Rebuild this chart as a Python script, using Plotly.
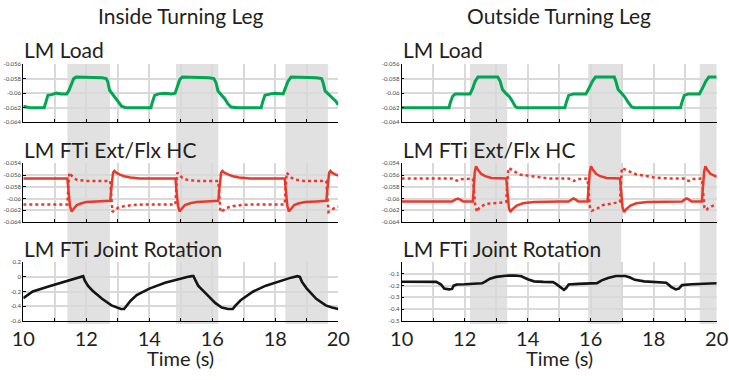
import plotly.graph_objects as go

# ---------------- DATA ----------------
# Inside turning leg
in_load_t = [10.0, 10.2, 10.5, 10.66, 10.72, 10.78, 10.9, 11.05, 11.2, 11.38, 11.45, 11.52, 11.6, 11.68, 11.9, 12.1, 12.3, 12.5, 12.63, 12.68, 12.74, 12.82, 12.92, 13.02, 13.12, 13.25, 13.5, 13.8, 14.05, 14.1, 14.17, 14.3, 14.5, 14.7, 14.82, 14.9, 14.97, 15.05, 15.3, 15.5, 15.7, 15.9, 16.05, 16.12, 16.18, 16.28, 16.4, 16.5, 16.6, 16.8, 17.1, 17.3, 17.55, 17.6, 17.67, 17.85, 18.0, 18.25, 18.32, 18.4, 18.5, 18.7, 18.9, 19.1, 19.3, 19.47, 19.52, 19.58, 19.7, 19.82, 19.92, 20.0]
in_load_v = [-0.0618, -0.0620, -0.0620, -0.0620, -0.0612, -0.0603, -0.0602, -0.0600, -0.0601, -0.0601, -0.0596, -0.0588, -0.0580, -0.0578, -0.0578, -0.0579, -0.0578, -0.0579, -0.0580, -0.0584, -0.0596, -0.0601, -0.0606, -0.0612, -0.0618, -0.0620, -0.0620, -0.0619, -0.0620, -0.0612, -0.0603, -0.0601, -0.0600, -0.0601, -0.0600, -0.0590, -0.0581, -0.0578, -0.0578, -0.0579, -0.0578, -0.0579, -0.0580, -0.0586, -0.0597, -0.0602, -0.0608, -0.0615, -0.0619, -0.0620, -0.0620, -0.0619, -0.0620, -0.0612, -0.0603, -0.0601, -0.0600, -0.0601, -0.0594, -0.0584, -0.0578, -0.0578, -0.0579, -0.0578, -0.0579, -0.0580, -0.0586, -0.0597, -0.0602, -0.0606, -0.0611, -0.0616]

in_hc_solid_t = [10.0, 11.0, 11.4, 11.44, 11.48, 11.53, 11.6, 11.7, 11.85, 12.0, 12.3, 12.6, 12.76, 12.8, 12.85, 12.89, 12.95, 13.05, 13.2, 13.4, 13.7, 14.0, 14.83, 14.87, 14.91, 14.96, 15.03, 15.13, 15.3, 15.5, 15.8, 16.19, 16.23, 16.28, 16.32, 16.38, 16.5, 16.65, 16.85, 17.2, 18.3, 18.34, 18.38, 18.43, 18.5, 18.6, 18.75, 18.95, 19.3, 19.62, 19.66, 19.71, 19.75, 19.8, 19.9, 20.0]
in_hc_solid_v = [-0.0566, -0.0566, -0.0566, -0.0590, -0.0612, -0.0622, -0.0617, -0.0611, -0.0608, -0.0606, -0.0605, -0.0604, -0.0604, -0.0580, -0.0556, -0.0553, -0.0556, -0.0559, -0.0562, -0.0564, -0.0566, -0.0566, -0.0566, -0.0590, -0.0612, -0.0622, -0.0617, -0.0611, -0.0608, -0.0606, -0.0605, -0.0604, -0.0580, -0.0556, -0.0553, -0.0556, -0.0559, -0.0562, -0.0564, -0.0566, -0.0566, -0.0590, -0.0612, -0.0622, -0.0617, -0.0611, -0.0608, -0.0606, -0.0605, -0.0604, -0.0580, -0.0556, -0.0553, -0.0556, -0.0559, -0.0561]

in_hc_dot_t = [10.0, 11.4, 11.43, 11.46, 11.52, 11.6, 11.7, 12.0, 12.76, 12.79, 12.83, 12.9, 13.0, 13.2, 13.5, 13.9, 14.83, 14.86, 14.89, 14.96, 15.05, 15.2, 15.5, 16.19, 16.22, 16.26, 16.35, 16.45, 16.65, 16.95, 17.3, 18.3, 18.33, 18.36, 18.43, 18.52, 18.65, 18.9, 19.62, 19.65, 19.69, 19.78, 19.88, 20.0]
in_hc_dot_v = [-0.0610, -0.0610, -0.0580, -0.0556, -0.0560, -0.0565, -0.0568, -0.0570, -0.0570, -0.0600, -0.0623, -0.0620, -0.0616, -0.0613, -0.0611, -0.0610, -0.0610, -0.0580, -0.0556, -0.0560, -0.0565, -0.0568, -0.0570, -0.0570, -0.0600, -0.0623, -0.0620, -0.0616, -0.0613, -0.0611, -0.0610, -0.0610, -0.0580, -0.0556, -0.0560, -0.0565, -0.0568, -0.0570, -0.0570, -0.0600, -0.0623, -0.0620, -0.0616, -0.0614]

in_rot_t = [10.0, 10.3, 10.8, 11.2, 11.5, 11.7, 11.85, 11.9, 11.95, 12.05, 12.2, 12.5, 12.8, 12.95, 13.1, 13.2, 13.25, 13.4, 13.6, 14.0, 14.5, 14.9, 15.2, 15.35, 15.4, 15.47, 15.55, 15.8, 16.1, 16.3, 16.5, 16.65, 16.72, 16.9, 17.3, 17.7, 18.1, 18.5, 18.7, 18.78, 18.85, 19.0, 19.3, 19.6, 19.8, 20.0]
in_rot_v = [-0.29, -0.20, -0.13, -0.08, -0.04, -0.01, 0.01, 0.01, -0.05, -0.12, -0.19, -0.30, -0.39, -0.42, -0.44, -0.44, -0.41, -0.33, -0.25, -0.16, -0.08, -0.03, 0.0, 0.01, 0.01, -0.05, -0.12, -0.23, -0.36, -0.42, -0.44, -0.44, -0.40, -0.32, -0.20, -0.12, -0.06, -0.01, 0.01, 0.0, -0.07, -0.16, -0.30, -0.39, -0.42, -0.44]

# Outside turning leg
out_load_t = [10.0, 10.5, 11.0, 11.5, 11.55, 11.62, 11.7, 11.9, 12.17, 12.25, 12.33, 12.42, 12.6, 12.8, 12.95, 13.05, 13.12, 13.2, 13.3, 13.42, 13.5, 13.6, 13.68, 14.0, 14.5, 15.0, 15.18, 15.23, 15.3, 15.45, 15.85, 15.95, 16.05, 16.15, 16.4, 16.75, 16.8, 16.87, 16.98, 17.08, 17.18, 17.3, 17.4, 17.8, 18.1, 18.5, 18.85, 18.9, 18.97, 19.1, 19.45, 19.55, 19.65, 19.75, 20.0]
out_load_v = [-0.0620, -0.0620, -0.0620, -0.0620, -0.0612, -0.0604, -0.0601, -0.0601, -0.0601, -0.0594, -0.0584, -0.0578, -0.0578, -0.0579, -0.0579, -0.0578, -0.0583, -0.0595, -0.0600, -0.0605, -0.0610, -0.0618, -0.0620, -0.0620, -0.0620, -0.0620, -0.0620, -0.0612, -0.0603, -0.0601, -0.0601, -0.0593, -0.0584, -0.0578, -0.0578, -0.0578, -0.0584, -0.0595, -0.0600, -0.0605, -0.0612, -0.0619, -0.0620, -0.0620, -0.0619, -0.0620, -0.0620, -0.0612, -0.0603, -0.0601, -0.0601, -0.0593, -0.0584, -0.0578, -0.0578]

out_hc_solid_t = [10.0, 11.0, 11.6, 11.7, 11.78, 11.86, 11.95, 12.2, 12.26, 12.29, 12.32, 12.36, 12.42, 12.52, 12.65, 12.85, 13.1, 13.32, 13.36, 13.4, 13.45, 13.52, 13.65, 13.85, 14.2, 14.6, 15.0, 15.3, 15.38, 15.45, 15.53, 15.6, 15.9, 15.93, 15.97, 16.01, 16.07, 16.17, 16.3, 16.5, 16.75, 16.93, 16.97, 17.01, 17.06, 17.13, 17.26, 17.45, 17.8, 18.3, 18.9, 18.98, 19.05, 19.12, 19.2, 19.53, 19.56, 19.6, 19.64, 19.7, 19.8, 19.9, 20.0]
out_hc_solid_v = [-0.0605, -0.0605, -0.0605, -0.0602, -0.0600, -0.0602, -0.0605, -0.0605, -0.0605, -0.0580, -0.0555, -0.0545, -0.0551, -0.0558, -0.0562, -0.0565, -0.0566, -0.0566, -0.0590, -0.0615, -0.0623, -0.0618, -0.0612, -0.0608, -0.0606, -0.0605, -0.0605, -0.0605, -0.0602, -0.0600, -0.0602, -0.0605, -0.0605, -0.0580, -0.0555, -0.0545, -0.0551, -0.0558, -0.0562, -0.0565, -0.0566, -0.0566, -0.0590, -0.0615, -0.0623, -0.0618, -0.0612, -0.0608, -0.0606, -0.0605, -0.0605, -0.0602, -0.0600, -0.0602, -0.0605, -0.0605, -0.0580, -0.0555, -0.0545, -0.0551, -0.0558, -0.0561, -0.0563]

out_hc_dot_t = [10.0, 11.6, 11.72, 11.8, 11.9, 12.26, 12.3, 12.33, 12.39, 12.47, 12.68, 13.0, 13.32, 13.35, 13.39, 13.53, 13.74, 14.27, 14.7, 15.3, 15.38, 15.47, 15.55, 15.9, 15.94, 15.98, 16.03, 16.18, 16.39, 16.7, 16.93, 16.96, 16.99, 17.14, 17.45, 17.99, 18.5, 18.95, 19.03, 19.12, 19.2, 19.53, 19.57, 19.61, 19.66, 19.72, 19.85, 20.0]
out_hc_dot_v = [-0.0566, -0.0566, -0.0569, -0.0570, -0.0567, -0.0566, -0.0590, -0.0610, -0.0623, -0.0615, -0.0609, -0.0607, -0.0606, -0.0575, -0.0548, -0.0552, -0.0559, -0.0563, -0.0566, -0.0566, -0.0569, -0.0570, -0.0567, -0.0566, -0.0590, -0.0618, -0.0621, -0.0618, -0.0611, -0.0608, -0.0606, -0.0575, -0.0548, -0.0552, -0.0559, -0.0564, -0.0566, -0.0566, -0.0569, -0.0570, -0.0567, -0.0566, -0.0590, -0.0615, -0.0620, -0.0617, -0.0613, -0.0610]

out_rot_t = [10.0, 11.0, 11.1, 11.25, 11.35, 11.5, 11.6, 11.65, 11.75, 12.0, 12.3, 12.55, 12.65, 12.8, 13.0, 13.3, 13.6, 13.8, 14.0, 14.2, 14.5, 14.8, 14.9, 15.05, 15.15, 15.22, 15.3, 15.6, 16.0, 16.2, 16.35, 16.55, 16.8, 17.1, 17.25, 17.4, 17.7, 18.1, 18.4, 18.55, 18.7, 18.8, 18.9, 19.2, 19.6, 20.0]
out_rot_v = [-0.166, -0.166, -0.168, -0.19, -0.225, -0.232, -0.228, -0.20, -0.19, -0.188, -0.185, -0.18, -0.165, -0.14, -0.125, -0.115, -0.113, -0.12, -0.145, -0.163, -0.168, -0.17, -0.185, -0.215, -0.235, -0.22, -0.19, -0.185, -0.183, -0.178, -0.155, -0.135, -0.117, -0.117, -0.13, -0.15, -0.163, -0.168, -0.175, -0.21, -0.232, -0.225, -0.195, -0.188, -0.183, -0.18]

# Stance-phase shading (start, end) in seconds
in_shade_start = [11.40, 14.85, 18.32]
in_shade_end = [12.75, 16.19, 19.67]
out_shade_start = [12.17, 15.92, 19.46]
out_shade_end = [13.35, 16.97, 20.00]

# Axis ticks
x_ticks = [10, 11, 12, 13, 14, 15, 16, 17, 18, 19, 20]
x_ticktext = ["10", "", "12", "", "14", "", "16", "", "18", "", "20"]
load_ticks = [-0.064, -0.062, -0.06, -0.058, -0.056]
load_ticktext = ["-0.064", "-0.062", "-0.06", "-0.058", "-0.056"]
hc_ticks = [-0.064, -0.062, -0.06, -0.058, -0.056, -0.054]
hc_ticktext = ["-0.064", "-0.062", "-0.06", "-0.058", "-0.056", "-0.054"]
in_rot_ticks = [-0.6, -0.4, -0.2, 0, 0.2]
in_rot_ticktext = ["-0.6", "-0.4", "-0.2", "0", "0.2"]
out_rot_ticks = [-0.5, -0.4, -0.3, -0.2, -0.1, 0]
out_rot_ticktext = ["-0.5", "-0.4", "-0.3", "-0.2", "-0.1", ""]

column_titles = ["Inside Turning Leg", "Outside Turning Leg"]
panel_titles = ["LM Load", "LM FTi Ext/Flx HC", "LM FTi Joint Rotation"]
x_title = "Time (s)"

# ---------------- STYLE / LAYOUT ----------------
W, H = 729, 380
FONT = "Lato"
GREEN = "#00a651"
RED = "#e8392a"
BLACK = "#151515"
GRID = "#d9d9d9"
SHADE = "#e1e1e1"
TXT = "#231f20"

def px_x(p):
    return p / W

def px_y(p):
    return 1 - p / H

col_px = [(23.3, 338.3), (401.7, 716.7)]
row_px = [(64.0, 122.3), (163.3, 222.0), (262.3, 320.7)]

fig = go.Figure()

series = [
    # (col, row, t, v, color, width, dash)
    (0, 0, in_load_t, in_load_v, GREEN, 3, "solid"),
    (0, 1, in_hc_dot_t, in_hc_dot_v, RED, 2.5, "dot"),
    (0, 1, in_hc_solid_t, in_hc_solid_v, RED, 2.5, "solid"),
    (0, 2, in_rot_t, in_rot_v, BLACK, 2.6, "solid"),
    (1, 0, out_load_t, out_load_v, GREEN, 3, "solid"),
    (1, 1, out_hc_dot_t, out_hc_dot_v, RED, 2.5, "dot"),
    (1, 1, out_hc_solid_t, out_hc_solid_v, RED, 2.5, "solid"),
    (1, 2, out_rot_t, out_rot_v, BLACK, 2.6, "solid"),
]

def axis_index(col, row):
    return col * 3 + row + 1

for col, row, t, v, color, w, dash in series:
    k = axis_index(col, row)
    fig.add_trace(go.Scatter(
        x=t, y=v, mode="lines",
        line=dict(color=color, width=w, dash=dash),
        xaxis="x" if k == 1 else f"x{k}",
        yaxis="y" if k == 1 else f"y{k}",
        showlegend=False, hoverinfo="skip",
    ))

y_cfg = {
    (0, 0): ([-0.064, -0.056], load_ticks, load_ticktext),
    (0, 1): ([-0.064, -0.054], hc_ticks, hc_ticktext),
    (0, 2): ([-0.6, 0.2], in_rot_ticks, in_rot_ticktext),
    (1, 0): ([-0.064, -0.056], load_ticks, load_ticktext),
    (1, 1): ([-0.064, -0.054], hc_ticks, hc_ticktext),
    (1, 2): ([-0.5, 0.0], out_rot_ticks, out_rot_ticktext),
}

layout = dict(
    width=W, height=H,
    margin=dict(l=0, r=0, t=0, b=0, autoexpand=False),
    paper_bgcolor="white",
    plot_bgcolor="rgba(0,0,0,0)",
    showlegend=False,
    font=dict(family=FONT, color=TXT),
)

for col in range(2):
    for row in range(3):
        k = axis_index(col, row)
        xname = "xaxis" if k == 1 else f"xaxis{k}"
        yname = "yaxis" if k == 1 else f"yaxis{k}"
        yr, yt, ytt = y_cfg[(col, row)]
        bottom = row == 2
        layout[xname] = dict(
            domain=[px_x(col_px[col][0]), px_x(col_px[col][1])],
            anchor="y" if k == 1 else f"y{k}",
            range=[10, 20], tickvals=x_ticks,
            ticktext=x_ticktext if bottom else [""] * len(x_ticks),
            showticklabels=bottom,
            tickfont=dict(family=FONT, size=20, color=TXT),
            ticks="inside", ticklen=3, tickwidth=1, tickcolor="black",
            showgrid=True, gridcolor=GRID, gridwidth=1.5,
            showline=True, linecolor="black", linewidth=1.2,
            zeroline=False, fixedrange=True, automargin=False,
        )
        layout[yname] = dict(
            domain=[px_y(row_px[row][1]), px_y(row_px[row][0])],
            anchor="x" if k == 1 else f"x{k}",
            range=yr, tickvals=yt, ticktext=ytt,
            tickfont=dict(family=FONT, size=6, color="#444"),
            ticks="inside", ticklen=2.5, tickwidth=1, tickcolor="black",
            showgrid=True, gridcolor=GRID, gridwidth=1.5,
            showline=True, linecolor="black", linewidth=1.2,
            zeroline=False, fixedrange=True, automargin=False,
        )

fig.update_layout(**layout)

# shaded stance bands spanning all three panels of a column
shade_top = px_y(64.0)
shade_bottom = px_y(324.0)
for col, starts, ends in [(0, in_shade_start, in_shade_end), (1, out_shade_start, out_shade_end)]:
    k = axis_index(col, 2)
    for s, e in zip(starts, ends):
        fig.add_shape(type="rect", xref="x" if k == 1 else f"x{k}", yref="paper",
                      x0=s, x1=e, y0=shade_bottom, y1=shade_top,
                      fillcolor=SHADE, line=dict(width=0), layer="below")

# column titles
for col, title in enumerate(column_titles):
    cx = (col_px[col][0] + col_px[col][1]) / 2
    fig.add_annotation(text=title, xref="paper", yref="paper",
                       x=px_x(cx), y=px_y(15.5), xanchor="center", yanchor="middle",
                       showarrow=False, font=dict(family=FONT, size=21, color=TXT))
    # x-axis title
    fig.add_annotation(text=x_title, xref="paper", yref="paper",
                       x=px_x(cx), y=px_y(357.5), xanchor="center", yanchor="middle",
                       showarrow=False, font=dict(family=FONT, size=20, color=TXT))
    # panel titles
    for row, ptitle in enumerate(panel_titles):
        cy = [49.5, 149.5, 248.5][row]
        fig.add_annotation(text=ptitle, xref="paper", yref="paper",
                           x=px_x(col_px[col][0] - 1), y=px_y(cy), xanchor="left", yanchor="middle",
                           showarrow=False, font=dict(family=FONT, size=21, color=TXT))

fig.write_html("out.html")
